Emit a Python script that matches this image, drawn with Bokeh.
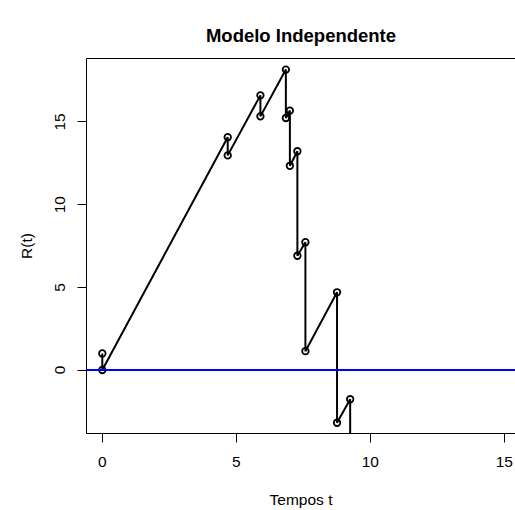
from bokeh.plotting import figure
from bokeh.models import Range1d, FixedTicker, LinearAxis, Span
from bokeh.embed import file_html
from bokeh.resources import INLINE

# data
tempos = [0.0, 0.0, 4.68, 4.68, 5.90, 5.90, 6.85, 6.85, 7.00, 7.00,
          7.28, 7.28, 7.58, 7.58, 8.76, 8.76, 9.25, 9.25]
reserva = [1.0, 0.0, 14.08, 12.98, 16.61, 15.34, 18.17, 15.24, 15.69, 12.35,
           13.23, 6.91, 7.73, 1.14, 4.70, -3.19, -1.77, -9.0]
x_ticks = [0, 5, 10, 15]
y_ticks = [0, 5, 10, 15]
titulo = "Modelo Independente"
x_label = "Tempos t"
y_label = "R(t)"

FONT = "Liberation Sans"

p = figure(width=515, height=510, output_backend="svg", toolbar_location=None,
           x_range=Range1d(-0.59, 15.42), y_range=Range1d(-3.84, 18.84),
           min_border_left=86, min_border_right=0, min_border_top=58,
           min_border_bottom=76, x_axis_location=None, y_axis_location=None)
p.outline_line_color = None
p.grid.visible = False
p.background_fill_color = "white"
p.border_fill_color = "white"

p.title.text = titulo
p.title.align = "center"
p.title.text_font = FONT
p.title.text_font_style = "bold"
p.title.text_font_size = "18.5px"
p.title.text_color = "black"
p.title.standoff = 25
p.title.offset = 2


def style_axis(ax, ticks, label):
    ax.ticker = FixedTicker(ticks=ticks)
    ax.axis_label = label
    ax.axis_label_text_font = FONT
    ax.axis_label_text_font_size = "15.5px"
    ax.axis_label_text_font_style = "normal"
    ax.axis_label_text_color = "black"
    ax.major_label_text_font = FONT
    ax.major_label_text_font_size = "15.5px"
    ax.major_label_text_color = "black"
    ax.major_tick_out = 9
    ax.major_tick_in = 0
    ax.minor_tick_line_color = None
    ax.major_tick_line_color = "black"
    ax.axis_line_color = "black"
    ax.axis_line_width = 1


xaxis = LinearAxis()
style_axis(xaxis, x_ticks, x_label)
xaxis.major_label_standoff = 14
xaxis.axis_label_standoff = 21
p.add_layout(xaxis, "below")

yaxis = LinearAxis()
style_axis(yaxis, y_ticks, y_label)
yaxis.major_label_orientation = "vertical"
yaxis.major_label_standoff = 12
yaxis.axis_label_standoff = 18
p.add_layout(yaxis, "left")

top = LinearAxis(ticker=FixedTicker(ticks=[]))
top.axis_line_color = "black"
top.major_tick_line_color = None
top.minor_tick_line_color = None
top.major_label_text_font_size = "0px"
p.add_layout(top, "above")

p.line(tempos, reserva, line_color="black", line_width=2)
p.scatter(tempos, reserva, marker="circle", size=6.5, fill_color="white",
          fill_alpha=0, line_color="black", line_width=1.8)

p.add_layout(Span(location=0, dimension="width", line_color="blue", line_width=2))

open("out.html", "w").write(file_html(p, INLINE))
